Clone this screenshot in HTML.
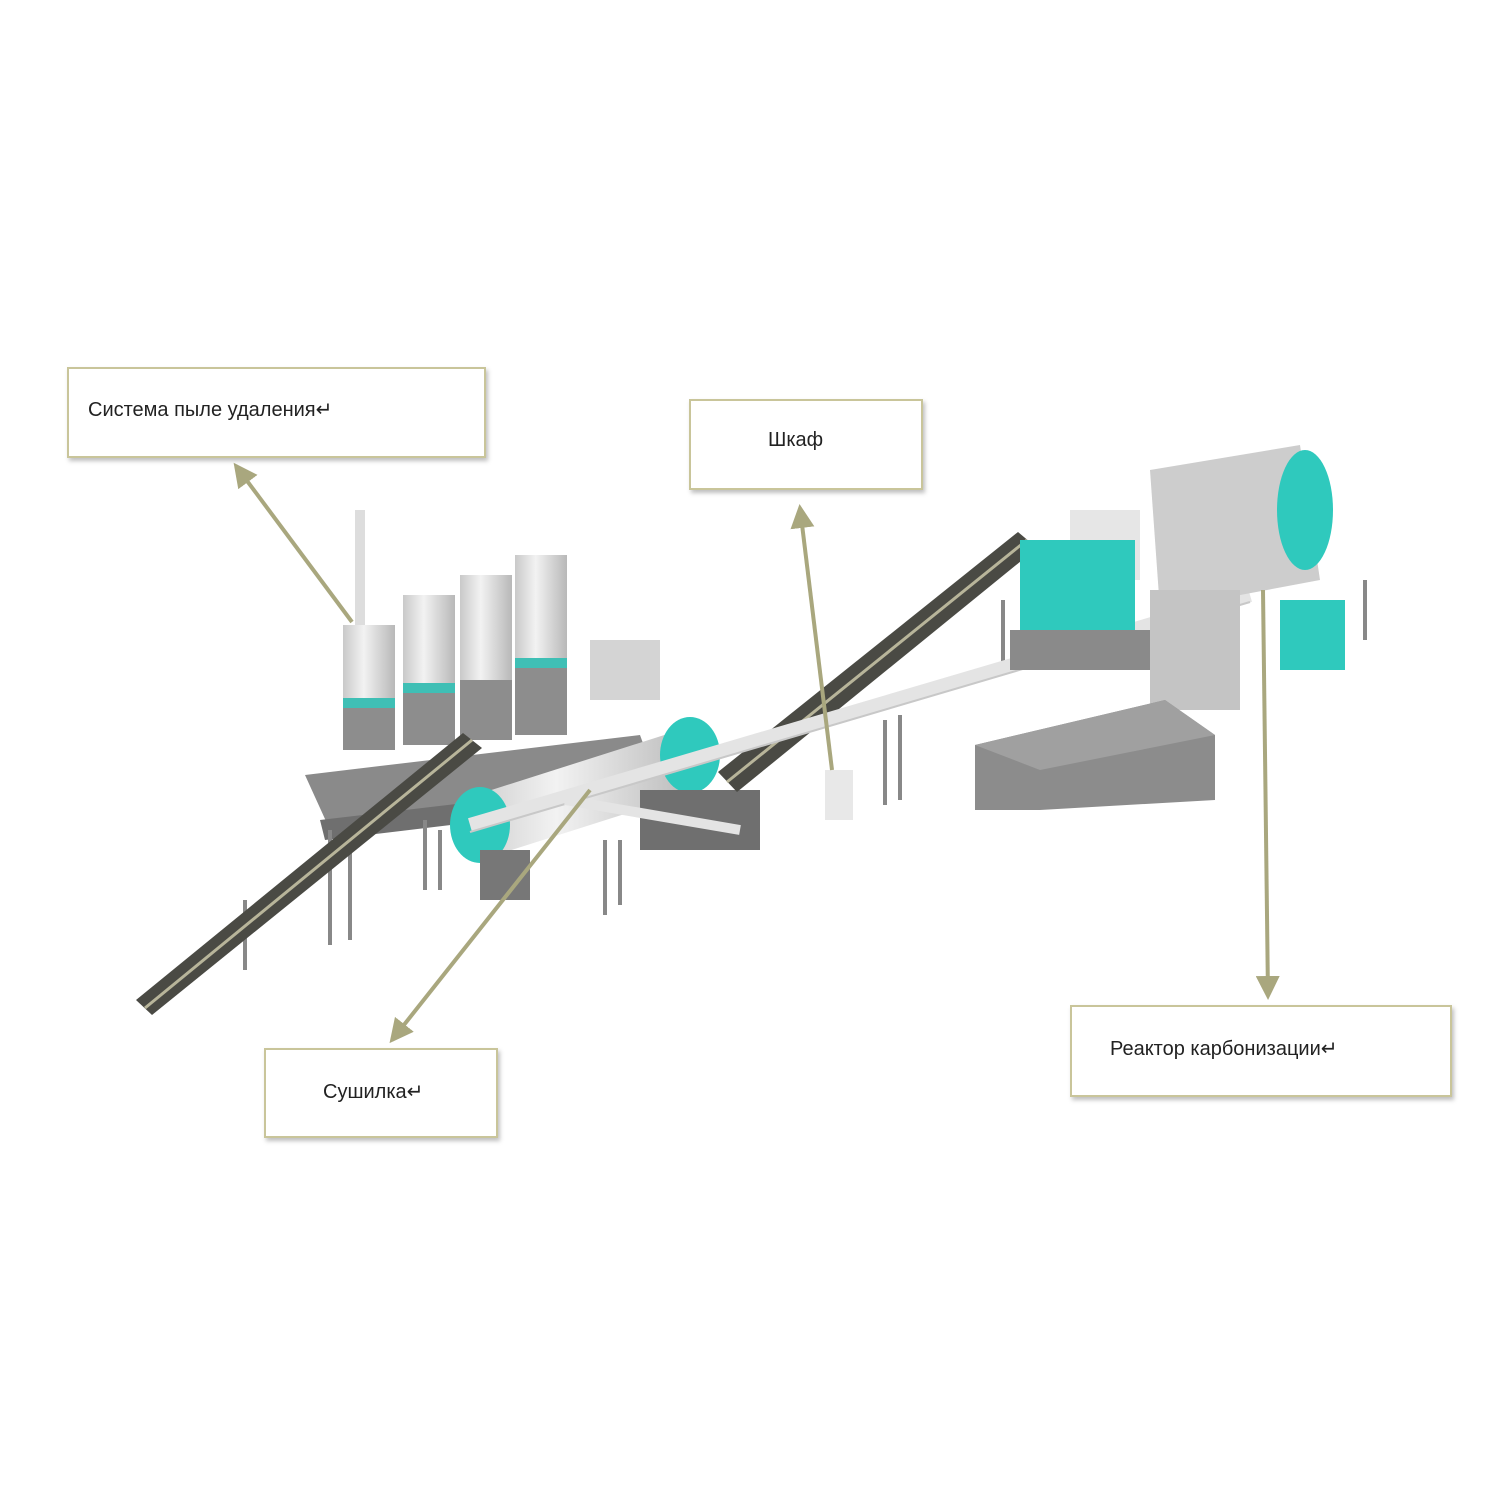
<!DOCTYPE html>
<html><head><meta charset="utf-8"><style>
html,body{margin:0;padding:0;background:#fff;}
svg{display:block}
text{font-family:"Liberation Sans","DejaVu Sans",sans-serif;fill:#222;}
</style></head><body>
<svg width="1500" height="1500" viewBox="0 0 1500 1500" xmlns="http://www.w3.org/2000/svg">
<defs>
<marker id="ah" markerWidth="6" markerHeight="6" refX="5" refY="3" orient="auto" markerUnits="strokeWidth"><path d="M0,0 L6,3 L0,6 z" fill="#a9a77e"/></marker>
<linearGradient id="cyl" x1="0" x2="1"><stop offset="0" stop-color="#c9c9c9"/><stop offset="0.4" stop-color="#f2f2f2"/><stop offset="1" stop-color="#b8b8b8"/></linearGradient>
</defs>
<rect width="1500" height="1500" fill="#fff"/>

<polygon points="305,775 640,735 660,790 330,830" fill="#8a8a8a"/>
<polygon points="320,820 660,780 660,800 325,840" fill="#6f6f6f"/>
<g stroke="#888" stroke-width="4">
<line x1="330" y1="830" x2="330" y2="945"/><line x1="350" y1="840" x2="350" y2="940"/>
<line x1="245" y1="900" x2="245" y2="970"/><line x1="425" y1="820" x2="425" y2="890"/>
<line x1="440" y1="830" x2="440" y2="890"/><line x1="605" y1="840" x2="605" y2="915"/>
<line x1="620" y1="840" x2="620" y2="905"/><line x1="885" y1="720" x2="885" y2="805"/>
<line x1="900" y1="715" x2="900" y2="800"/><line x1="1003" y1="600" x2="1003" y2="670"/>
<line x1="1365" y1="580" x2="1365" y2="640"/>
</g>
<g>
<rect x="343" y="625" width="52" height="125" fill="url(#cyl)"/><rect x="343" y="705" width="52" height="45" fill="#8d8d8d"/><rect x="343" y="698" width="52" height="10" fill="#3fbfb5"/>
<rect x="355" y="510" width="10" height="115" fill="#ddd"/>
<rect x="403" y="595" width="52" height="150" fill="url(#cyl)"/><rect x="403" y="690" width="52" height="55" fill="#8d8d8d"/><rect x="403" y="683" width="52" height="10" fill="#3fbfb5"/>
<rect x="460" y="575" width="52" height="165" fill="url(#cyl)"/><rect x="460" y="680" width="52" height="60" fill="#8d8d8d"/>
<rect x="515" y="555" width="52" height="180" fill="url(#cyl)"/><rect x="515" y="665" width="52" height="70" fill="#8d8d8d"/><rect x="515" y="658" width="52" height="10" fill="#3fbfb5"/>
<rect x="590" y="640" width="70" height="60" fill="#d4d4d4"/>
</g>
<polygon points="136,1000 152,1015 482,748 463,733" fill="#4a4a44"/>
<line x1="145" y1="1008" x2="472" y2="740" stroke="#b8b59a" stroke-width="3"/>
<polygon points="460,800 680,730 700,790 480,860" fill="url(#cyl)"/>
<ellipse cx="480" cy="825" rx="30" ry="38" fill="#2fc9bd"/>
<ellipse cx="690" cy="755" rx="30" ry="38" fill="#2fc9bd"/>
<rect x="640" y="790" width="120" height="60" fill="#6f6f6f"/>
<rect x="480" y="850" width="50" height="50" fill="#777"/>
<polygon points="718,772 737,792 1037,548 1018,532" fill="#4a4a44"/>
<line x1="727" y1="782" x2="1027" y2="540" stroke="#b8b59a" stroke-width="3"/>
<line x1="470" y1="825" x2="1250" y2="595" stroke="#e4e4e4" stroke-width="14"/>
<line x1="470" y1="832" x2="1250" y2="602" stroke="#c8c8c8" stroke-width="2"/>
<line x1="565" y1="800" x2="740" y2="830" stroke="#e4e4e4" stroke-width="10"/>
<rect x="825" y="770" width="28" height="50" fill="#e8e8e8"/>
<polygon points="1150,470 1300,445 1320,580 1160,610" fill="#cdcdcd"/>
<ellipse cx="1305" cy="510" rx="28" ry="60" fill="#2fc9bd"/>
<rect x="1070" y="510" width="70" height="70" fill="#e6e6e6"/>
<rect x="1020" y="540" width="115" height="100" fill="#2fc9bd"/>
<rect x="1010" y="630" width="160" height="40" fill="#8a8a8a"/>
<rect x="1150" y="590" width="90" height="120" fill="#c4c4c4"/>
<rect x="1280" y="600" width="65" height="70" fill="#2fc9bd"/>
<polygon points="975,745 1165,700 1215,735 1215,800 1040,810 975,810" fill="#8c8c8c"/>
<polygon points="975,745 1165,700 1215,735 1040,770" fill="#a0a0a0"/>

<g stroke="#a9a77e" stroke-width="4" fill="none">
<line x1="352" y1="622" x2="236" y2="466" marker-end="url(#ah)"/>
<line x1="832" y1="770" x2="800" y2="508" marker-end="url(#ah)"/>
<line x1="590" y1="790" x2="392" y2="1040" marker-end="url(#ah)"/>
<line x1="1263" y1="590" x2="1268" y2="996" marker-end="url(#ah)"/>
</g>

<g fill="#fff" stroke="#c9c59a" stroke-width="2" style="filter:drop-shadow(2px 3px 2px rgba(0,0,0,0.25))">
<rect x="68" y="368" width="417" height="89"/>
<rect x="690" y="400" width="232" height="89"/>
<rect x="265" y="1049" width="232" height="88"/>
<rect x="1071" y="1006" width="380" height="90"/>
</g>
<text x="88" y="416" font-size="20">Система  пыле удаления↵</text>
<text x="768" y="446" font-size="20">Шкаф</text>
<text x="323" y="1098" font-size="20">Сушилка↵</text>
<text x="1110" y="1055" font-size="20">Реактор  карбонизации↵</text>
</svg>
</body></html>
